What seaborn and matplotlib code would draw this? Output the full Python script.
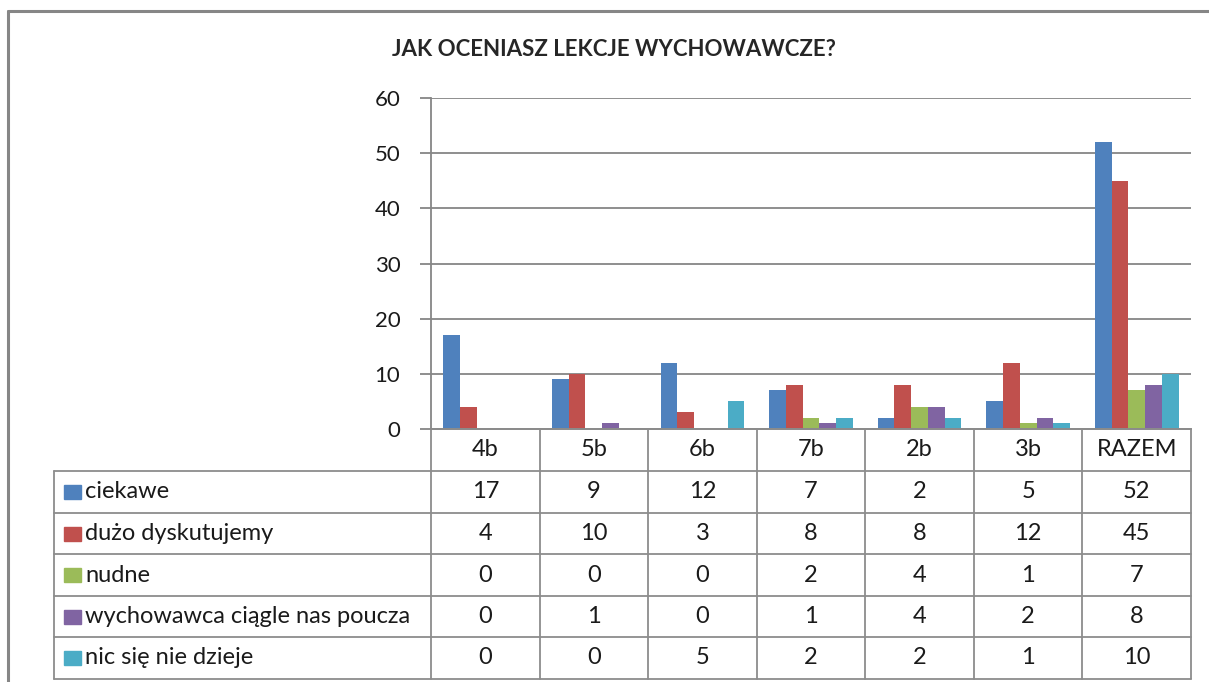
import numpy as np
import pandas as pd
import matplotlib
matplotlib.use('Agg')
import matplotlib.pyplot as plt
from matplotlib.lines import Line2D
from matplotlib.patches import Rectangle
import seaborn as sns

# data
klasy = ['4b', '5b', '6b', '7b', '2b', '3b', 'RAZEM']
odpowiedzi = ['ciekawe', 'dużo dyskutujemy', 'nudne',
              'wychowawca ciągle nas poucza', 'nic się nie dzieje']
ciekawe = [17, 9, 12, 7, 2, 5, 52]
duzo_dyskutujemy = [4, 10, 3, 8, 8, 12, 45]
nudne = [0, 0, 0, 2, 4, 1, 7]
poucza = [0, 1, 0, 1, 4, 2, 8]
nic = [0, 0, 5, 2, 2, 1, 10]
kolory = ['#4F81BD', '#C0504D', '#9BBB59', '#8064A2', '#4BACC6']

serie = [ciekawe, duzo_dyskutujemy, nudne, poucza, nic]
df = pd.DataFrame({
    'klasa': np.tile(klasy, len(odpowiedzi)),
    'odpowiedz': np.repeat(odpowiedzi, len(klasy)),
    'liczba': np.concatenate(serie),
})

sns.set_style('white')
plt.rcParams['font.family'] = ['Lato', 'DejaVu Sans']
szary = '#868686'
W, H = 1209, 682

def fx(px):
    return px / W

def fy(py):
    return 1 - py / H

fig = plt.figure(figsize=(W / 100, H / 100), dpi=100)
x0, x1, y0, y1 = 431, 1191, 98, 429
ax = fig.add_axes([fx(x0), fy(y1), fx(x1 - x0), (y1 - y0) / H])

sns.barplot(data=df, x='klasa', y='liczba', hue='odpowiedz', order=klasy,
            hue_order=odpowiedzi, palette=kolory, width=0.77, ax=ax,
            legend=False, saturation=1, linewidth=0)

ax.set_ylim(0, 60)
ax.set_yticks(range(0, 61, 10))
ax.set_xlim(-0.5, len(klasy) - 0.5)
ax.set_xticks([])
ax.set_xlabel('')
ax.set_ylabel('')
ax.yaxis.grid(True, color=szary, lw=1.3)
ax.set_axisbelow(True)
for s in ['top', 'right']:
    ax.spines[s].set_visible(False)
for s in ['left', 'bottom']:
    ax.spines[s].set_color(szary)
    ax.spines[s].set_linewidth(1.3)
ax.tick_params(axis='y', length=8, width=1.3, color=szary, pad=14,
               labelsize=16, labelcolor='#1a1a1a', left=True)

fig.text(fx(614), fy(50), 'JAK OCENIASZ LEKCJE WYCHOWAWCZE?', ha='center',
         va='center', fontsize=16, fontweight='bold')

# chart border
fig.add_artist(Line2D([fx(8), fx(1209)], [fy(11), fy(11)], color=szary, lw=2.2))
fig.add_artist(Line2D([fx(8), fx(8)], [fy(11), fy(682)], color=szary, lw=2.2))

# data table
col_w = (x1 - x0) / len(klasy)
cols = [x0 + i * col_w for i in range(len(klasy) + 1)]
rows = [429, 471, 513, 554, 596, 637, 679]
lc = '#8c8c8c'
fs = 17
for i, r in enumerate(rows):
    left = x0 if i == 0 else 54
    fig.add_artist(Line2D([fx(left), fx(x1)], [fy(r), fy(r)], color=lc, lw=1.3))
for c in cols:
    fig.add_artist(Line2D([fx(c), fx(c)], [fy(rows[0]), fy(rows[-1])], color=lc, lw=1.3))
fig.add_artist(Line2D([fx(54), fx(54)], [fy(rows[1]), fy(rows[-1])], color=lc, lw=1.3))

for j, k in enumerate(klasy):
    fig.text(fx((cols[j] + cols[j + 1]) / 2), fy((rows[0] + rows[1]) / 2), k,
             ha='center', va='center', fontsize=fs, color='#1a1a1a')
for i, (nazwa, vals, kol) in enumerate(zip(odpowiedzi, serie, kolory)):
    yc = (rows[i + 1] + rows[i + 2]) / 2
    fig.add_artist(Rectangle((fx(64), fy(yc + 7)), fx(17), 14 / H,
                             transform=fig.transFigure, color=kol))
    fig.text(fx(85), fy(yc), nazwa, ha='left', va='center', fontsize=fs,
             color='#1a1a1a')
    for j, v in enumerate(vals):
        fig.text(fx((cols[j] + cols[j + 1]) / 2), fy(yc), str(v), ha='center',
                 va='center', fontsize=fs, color='#1a1a1a')

fig.savefig('out.png', dpi=100)
